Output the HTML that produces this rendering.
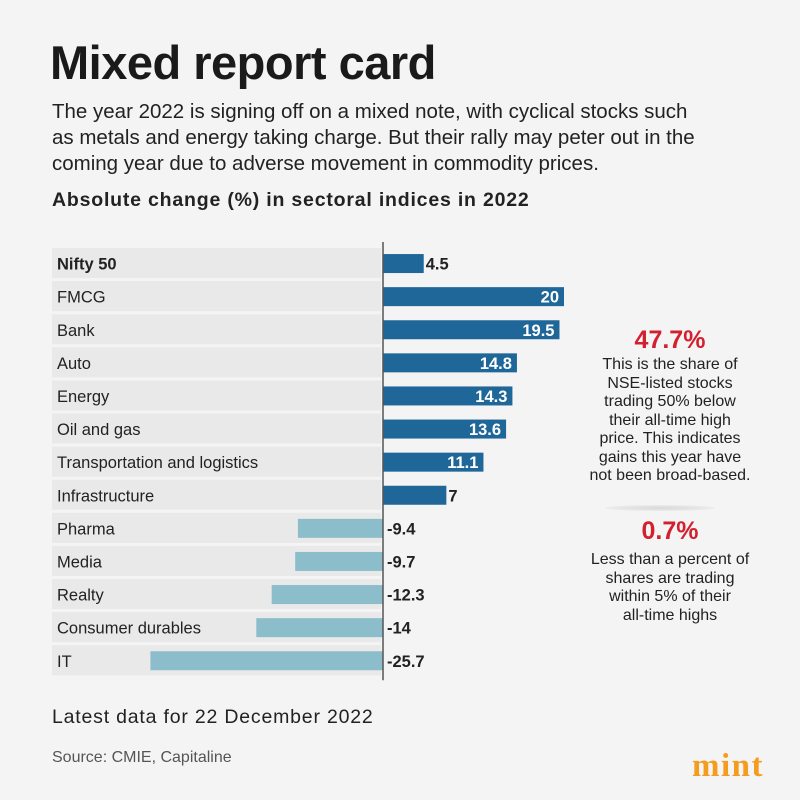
<!DOCTYPE html>
<html><head><meta charset="utf-8"><style>
body{margin:0;width:800px;height:800px;background:#f4f4f4;font-family:"Liberation Sans",sans-serif;color:#222;position:relative;overflow:hidden}
.t{position:absolute;white-space:nowrap}
</style></head><body>
<div class="t" style="left:50px;top:35px;font-size:47px;font-weight:bold;color:#1a1a1a;letter-spacing:-0.5px">Mixed report card</div>
<div class="t" style="left:52px;top:99px;font-size:20.5px;line-height:26px;color:#222">The year 2022 is signing off on a mixed note, with cyclical stocks such<br>as metals and energy taking charge. But their rally may peter out in the<br>coming year due to adverse movement in commodity prices.</div>
<div class="t" style="left:52px;top:189px;font-size:19.5px;font-weight:bold;letter-spacing:0.8px">Absolute change (%) in sectoral indices in 2022</div>
<svg id="chart" width="800" height="800" style="position:absolute;left:0;top:0"></svg>
<div class="t" style="left:570px;top:326px;width:200px;text-align:center;font-size:25px;font-weight:bold;color:#d3202f">47.7%</div>
<div class="t" style="left:560px;top:356px;width:220px;text-align:center;font-size:16px;line-height:18.5px;color:#222">This is the share of<br>NSE-listed stocks<br>trading 50% below<br>their all-time high<br>price. This indicates<br>gains this year have<br>not been broad-based.</div>
<div style="position:absolute;left:605px;top:505px;width:110px;height:6px;border-radius:50%;background:radial-gradient(#d8d8d8,rgba(244,244,244,0))"></div>
<div class="t" style="left:570px;top:517px;width:200px;text-align:center;font-size:25px;font-weight:bold;color:#d3202f">0.7%</div>
<div class="t" style="left:560px;top:551px;width:220px;text-align:center;font-size:16px;line-height:18.5px;color:#222">Less than a percent of<br>shares are trading<br>within 5% of their<br>all-time highs</div>
<div class="t" style="left:52px;top:706px;font-size:19.5px;letter-spacing:0.8px;color:#222">Latest data for 22 December 2022</div>
<div class="t" style="left:52px;top:749px;font-size:16px;color:#555">Source: CMIE, Capitaline</div>
<div class="t" style="left:692px;top:748px;font-size:33px;font-weight:bold;font-family:'Liberation Serif',serif;color:#f39c1e;letter-spacing:1.5px">mint</div>
<script>
const categories=["Nifty 50","FMCG","Bank","Auto","Energy","Oil and gas","Transportation and logistics","Infrastructure","Pharma","Media","Realty","Consumer durables","IT"];
const values=[4.5,20,19.5,14.8,14.3,13.6,11.1,7,-9.4,-9.7,-12.3,-14,-25.7];
const labels=["4.5","20","19.5","14.8","14.3","13.6","11.1","7","-9.4","-9.7","-12.3","-14","-25.7"];
const svg=document.getElementById('chart');
const NS='http://www.w3.org/2000/svg';
const x0=383,k=9.05,top0=247,pitch=33.1;
const xs=v=>x0+v*k;
const yc=i=>top0+pitch*i+pitch/2;
function mk(t,a){const e=document.createElementNS(NS,t);for(const n in a)e.setAttribute(n,a[n]);svg.appendChild(e);return e;}
categories.forEach((c,i)=>{
  const band=mk('rect',{x:52,y:top0+pitch*i+1,width:329,height:pitch-3,fill:'#e9e9e9'});
  
  
  const lt=mk('text',{x:57,y:yc(i)+6,'font-size':16.5,fill:'#222','font-weight':i==0?'bold':'normal'});
  lt.textContent=c;
  
  
  const v=values[i];
  const b=mk('rect',{x:Math.min(xs(v),x0),y:yc(i)-9.5,width:Math.abs(xs(v)-x0),height:19,fill:v>=0?'#1f6799':'#8bbdcb'});
  
  
  const w=Math.abs(xs(v)-x0);
  let tx,anchor,col;
  if(v<0){tx=x0+4;anchor='start';col='#222';}
  else if(w>70){tx=xs(v)-5;anchor='end';col='#fff';}
  else{tx=xs(v)+2;anchor='start';col='#222';}
  const vt=mk('text',{x:tx,y:yc(i)+6,'font-size':16.5,'font-weight':'bold',fill:col,'text-anchor':anchor});
  vt.textContent=labels[i];
  
  
});
const ax=mk('line',{x1:x0,x2:x0,y1:top0-5,y2:top0+pitch*categories.length+3,stroke:'#555','stroke-width':1.5});


</script>
</body></html>
